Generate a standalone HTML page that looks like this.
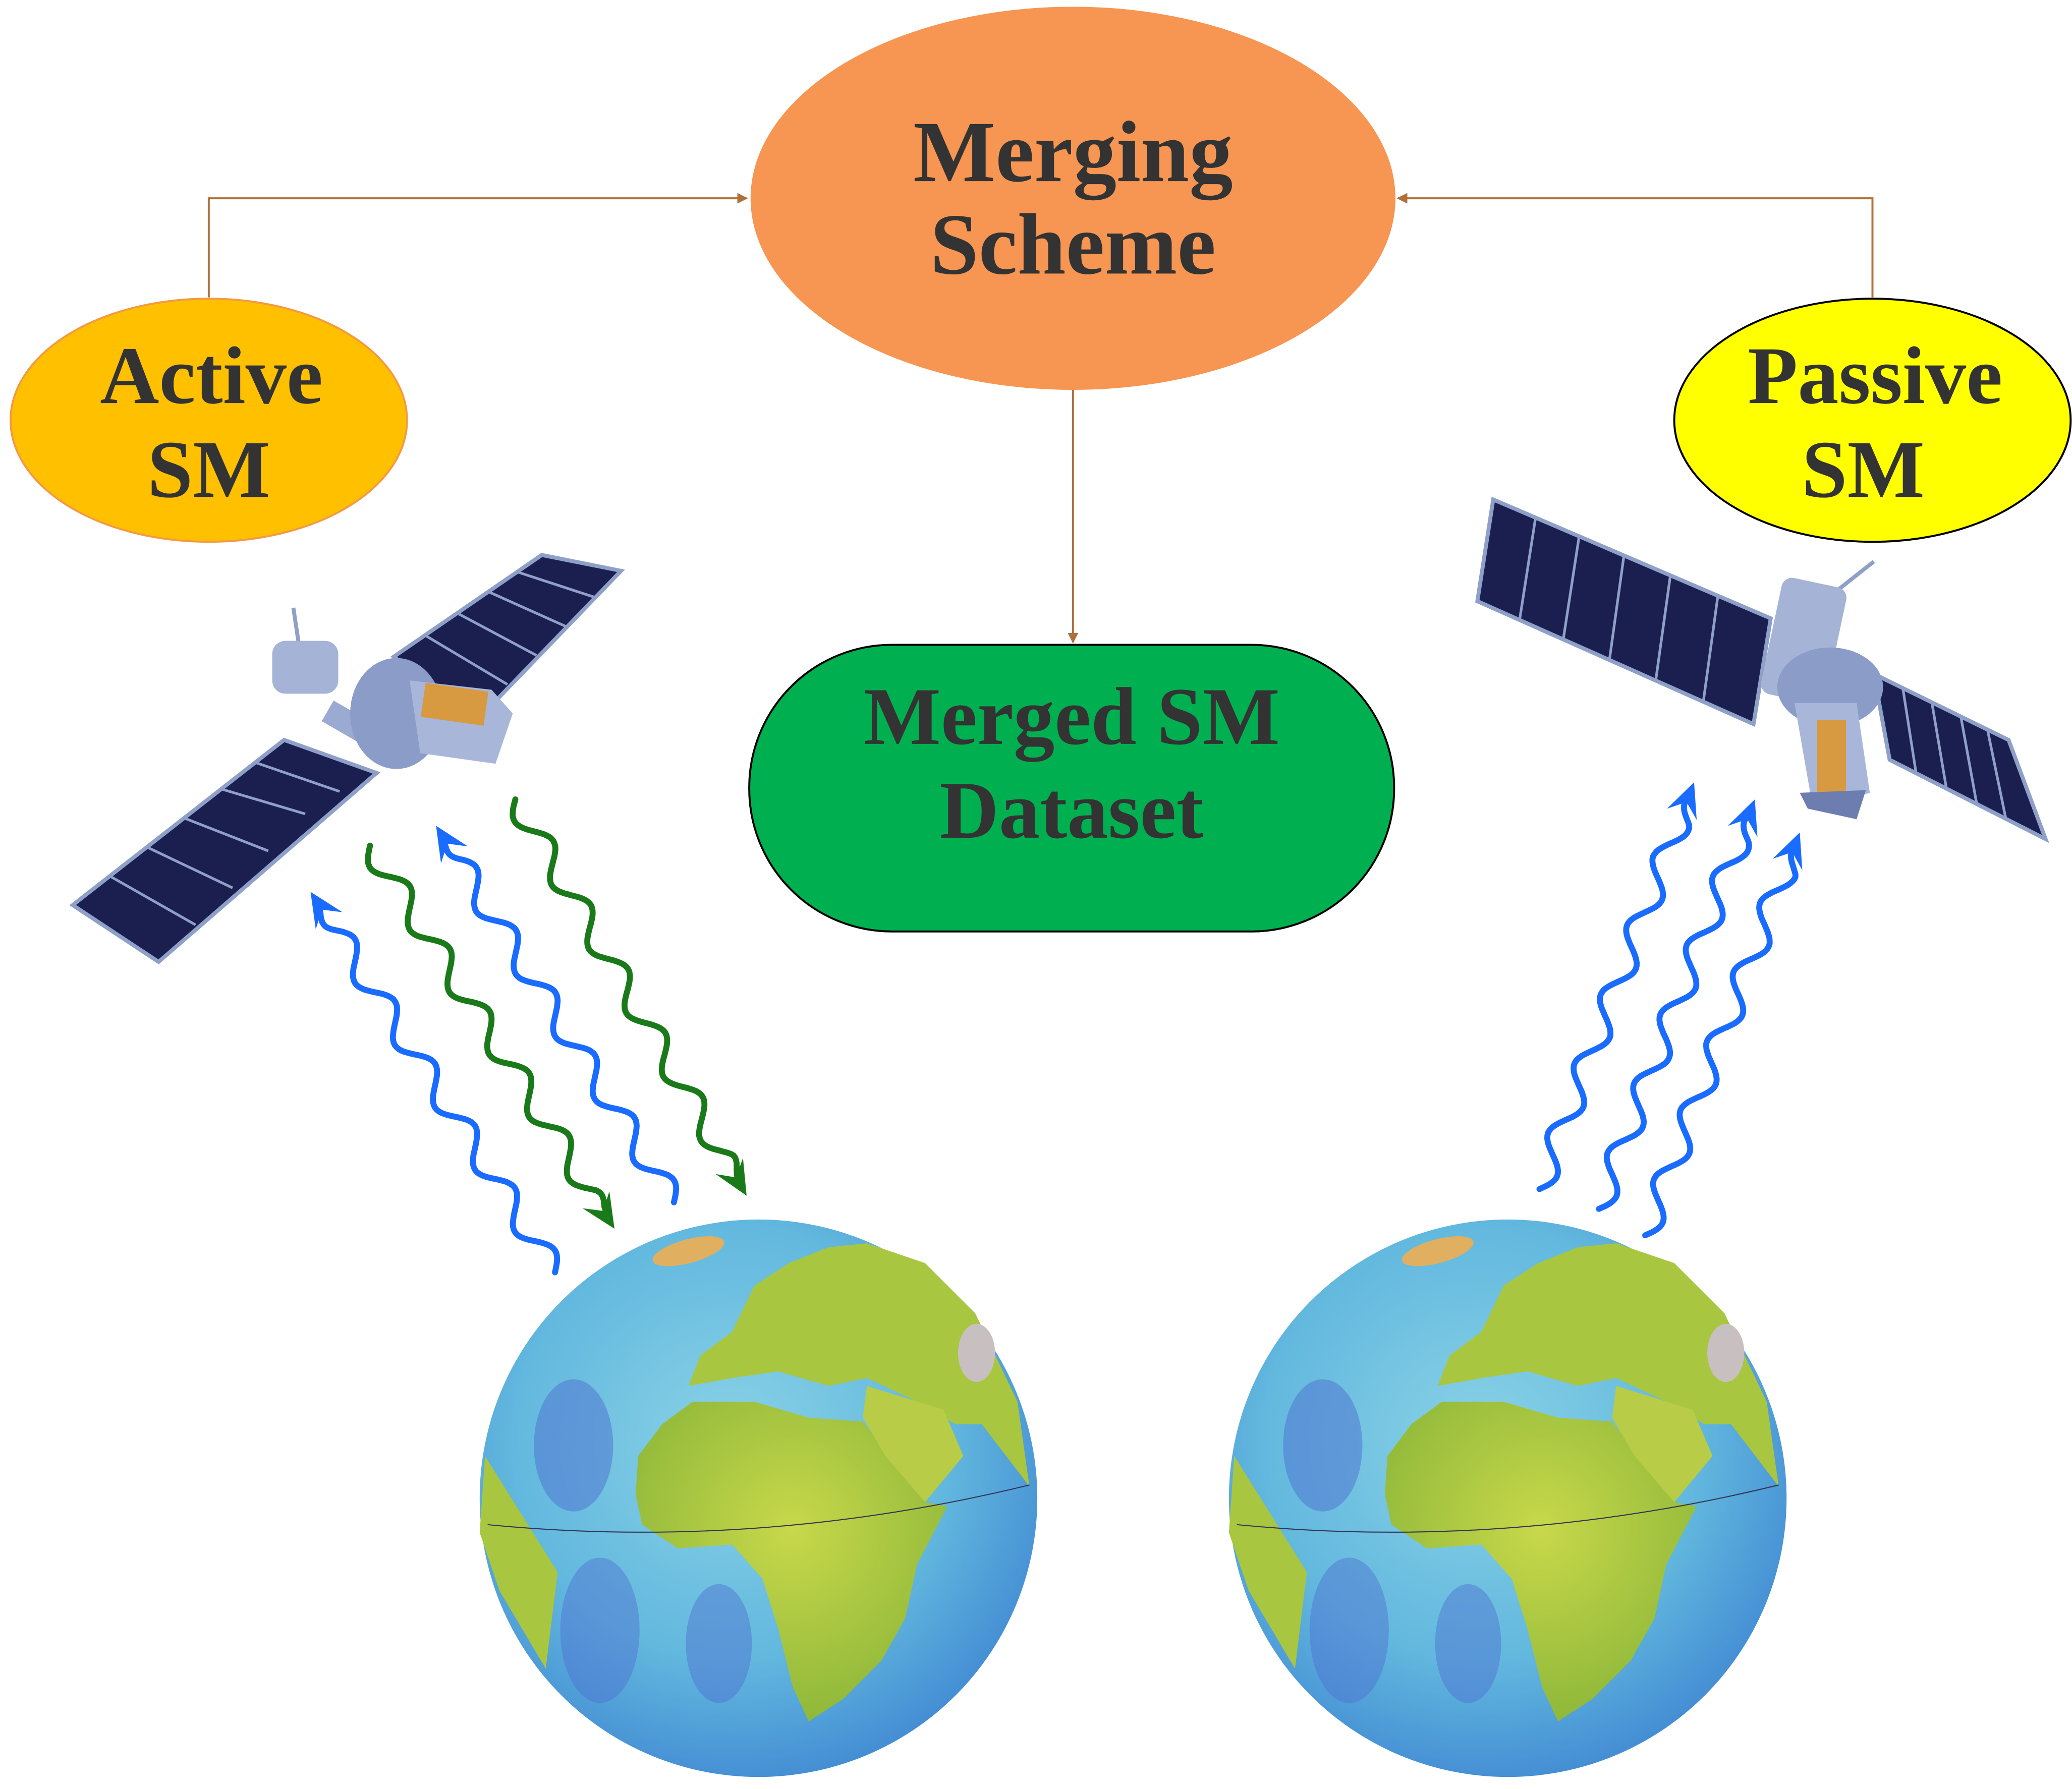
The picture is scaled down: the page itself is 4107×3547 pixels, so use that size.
<!DOCTYPE html>
<html><head><meta charset="utf-8"><style>
html,body{margin:0;padding:0;background:#fff;}
svg{display:block;}
text{font-family:"Liberation Serif",serif;font-weight:bold;fill:#333;text-anchor:middle;}
</style></head><body>
<svg id="s" width="4107" height="3547" viewBox="0 0 1568 1354" xmlns="http://www.w3.org/2000/svg">
<defs>
<marker id="ar" markerWidth="8" markerHeight="8" refX="7" refY="4" orient="auto" markerUnits="userSpaceOnUse"><path d="M0,0 L8,4 L0,8 Z" fill="#b0703a"/></marker>
<radialGradient id="ocean" cx="45%" cy="40%" r="65%">
<stop offset="0" stop-color="#8ad2e6"/><stop offset="0.6" stop-color="#62b8de"/><stop offset="1" stop-color="#3f86d2"/></radialGradient>
<radialGradient id="land" cx="50%" cy="40%" r="60%"><stop offset="0" stop-color="#c8d84a"/><stop offset="1" stop-color="#8fb83a"/></radialGradient>
<g id="globe">
<circle r="211" fill="url(#ocean)"/>
<ellipse cx="-140" cy="-40" rx="30" ry="50" fill="#4d6fd0" opacity="0.5"/>
<ellipse cx="-120" cy="100" rx="30" ry="55" fill="#4d6fd0" opacity="0.45"/>
<ellipse cx="-30" cy="110" rx="25" ry="45" fill="#4d6fd0" opacity="0.45"/>
<path d="M-91,-32 L-73,-56 L-50,-73 L-3,-73 L38,-61 L79,-58 L99,-32 L126,3 L143,6 L120,50 L111,91 L93,123 L64,152 L38,169 L26,143 L15,99 L3,61 L-20,35 L-61,38 L-88,20 L-93,-3 Z" fill="url(#land)"/>
<path d="M-53,-85 L-44,-108 L-20,-126 L-3,-161 L23,-178 L53,-190 L82,-193 L126,-178 L164,-140 L196,-73 L205,-9 L169,-56 L149,-56 L120,-73 L82,-91 L53,-85 L15,-96 L-20,-91 Z" fill="#a8c640"/>
<path d="M82,-85 L140,-67 L155,-32 L126,3 L96,-32 L79,-61 Z" fill="#b8cc48"/>
<path d="M-207,-32 L-152,56 L-161,129 L-196,70 L-211,26 Z" fill="#a8c640"/>
<ellipse cx="-53" cy="-187" rx="28" ry="9" transform="rotate(-15 -53 -187)" fill="#e0b060"/>
<ellipse cx="165" cy="-110" rx="14" ry="22" fill="#c8c0c0"/>
<path d="M-205,20 Q0,40 205,-10" stroke="#335" stroke-width="0.8" fill="none"/>
</g>
</defs>

<path d="M158,225 L158,150 L565,150" stroke="#b0703a" stroke-width="1.5" fill="none" marker-end="url(#ar)"/>
<path d="M1417,225 L1417,150 L1058,150" stroke="#b0703a" stroke-width="1.5" fill="none" marker-end="url(#ar)"/>
<path d="M812,295 L812,486" stroke="#b0703a" stroke-width="1.5" fill="none" marker-end="url(#ar)"/>

<g>
<ellipse cx="812" cy="150" rx="244" ry="145" fill="#f79552"/>
<text x="812" y="137" font-size="66">Merging</text>
<text x="812" y="207" font-size="66">Scheme</text>
</g>
<g>
<ellipse cx="158" cy="318" rx="150" ry="92" fill="#ffc000" stroke="#f39a40" stroke-width="1.5"/>
<text x="160" y="305" font-size="62">Active</text>
<text x="158" y="376" font-size="62">SM</text>
</g>
<g>
<ellipse cx="1417" cy="318" rx="150" ry="92" fill="#ffff00" stroke="#000" stroke-width="1.5"/>
<text x="1419" y="305" font-size="62">Passive</text>
<text x="1410" y="376" font-size="62">SM</text>
</g>
<g>
<rect x="567" y="488" width="488" height="217" rx="108" ry="108" fill="#00b050" stroke="#000" stroke-width="1.5"/>
<text x="811" y="563" font-size="62">Merged SM</text>
<text x="811" y="634" font-size="62">Dataset</text>
</g>

<g>
<polygon points="298,497 410,420 470,432 362,544" fill="#1a1f4f" stroke="#8fa0c8" stroke-width="3"/>
<polygon points="55,685 215,560 285,585 120,728" fill="#1a1f4f" stroke="#8fa0c8" stroke-width="3"/>
<g stroke="#8fa0c8" stroke-width="2">
<line x1="322" y1="481" x2="384" y2="518"/><line x1="346" y1="464" x2="406" y2="496"/><line x1="370" y1="448" x2="428" y2="474"/><line x1="392" y1="433" x2="450" y2="452"/>
<line x1="83" y1="663" x2="148" y2="700"/><line x1="111" y1="641" x2="176" y2="672"/><line x1="139" y1="619" x2="203" y2="644"/><line x1="167" y1="597" x2="231" y2="616"/><line x1="193" y1="577" x2="257" y2="599"/>
</g>
<line x1="222" y1="460" x2="228" y2="500" stroke="#8fa0c8" stroke-width="3"/>
<rect x="206" y="485" width="50" height="40" rx="10" fill="#a4b3d6"/>
<rect x="245" y="540" width="45" height="18" fill="#9aaad0" transform="rotate(30 267 549)"/>
<ellipse cx="300" cy="540" rx="35" ry="42" fill="#8c9cc8"/>
<polygon points="310,515 372,522 388,540 375,578 318,570" fill="#a8b6da"/>
<rect x="320" y="520" width="48" height="26" fill="#d89a40" transform="rotate(8 344 533)"/>
</g>

<g>
<polygon points="1130,378 1340,468 1327,548 1118,455" fill="#1a1f4f" stroke="#8fa0c8" stroke-width="3"/>
<g stroke="#8fa0c8" stroke-width="2">
<line x1="1162" y1="392" x2="1150" y2="469"/><line x1="1195" y1="406" x2="1183" y2="484"/><line x1="1229" y1="420" x2="1218" y2="499"/><line x1="1264" y1="436" x2="1253" y2="515"/><line x1="1300" y1="451" x2="1289" y2="531"/>
</g>
<polygon points="1418,510 1520,560 1548,635 1430,575" fill="#1a1f4f" stroke="#8fa0c8" stroke-width="3"/>
<g stroke="#8fa0c8" stroke-width="2">
<line x1="1440" y1="521" x2="1450" y2="585"/><line x1="1462" y1="532" x2="1473" y2="597"/><line x1="1484" y1="543" x2="1496" y2="609"/><line x1="1504" y1="552" x2="1518" y2="620"/>
</g>
<line x1="1380" y1="455" x2="1418" y2="425" stroke="#8fa0c8" stroke-width="3"/>
<rect x="1340" y="440" width="50" height="90" rx="8" fill="#a4b3d6" transform="rotate(12 1365 485)"/>
<ellipse cx="1385" cy="520" rx="40" ry="30" fill="#8c9cc8"/>
<polygon points="1358,532 1405,532 1415,600 1372,612" fill="#a8b6da"/>
<rect x="1375" y="545" width="22" height="55" fill="#d89a40"/>
<polygon points="1362,600 1412,598 1405,620 1368,612" fill="#6d7db0"/>
</g>

<g id="waves"></g>

<use href="#globe" x="574" y="1134"/>
<use href="#globe" x="1141" y="1134"/>
</svg>
<script>
const wavesFrom = [[420,963],[510,910],[280,640],[390,605],[1165,900],[1210,915],[1245,935]];
const wavesTo   = [[235,675],[330,625],[465,930],[565,905],[1282,592],[1328,605],[1362,630]];
const waveColors = ['#1a6bff','#1a6bff','#1a7a1a','#1a7a1a','#1a6bff','#1a6bff','#1a6bff'];
const waveNames = ['active-return-wave-1','active-return-wave-2','active-pulse-wave-1','active-pulse-wave-2','passive-emission-wave-1','passive-emission-wave-2','passive-emission-wave-3'];
const g = document.getElementById('waves');
const NS = 'http://www.w3.org/2000/svg';
wavesFrom.forEach((a,i)=>{
  const b = wavesTo[i];
  const dx=b[0]-a[0], dy=b[1]-a[1], L=Math.hypot(dx,dy);
  const ux=dx/L, uy=dy/L, nx=-uy, ny=ux;
  const amp = 9, wl = 56;
  let d='';
  const stop=L-16;
  for(let t=0;t<=stop;t+=2){
    const o=amp*Math.sin(2*Math.PI*t/wl)*Math.min(1,(stop-t)/20+0.2);
    const x=a[0]+ux*t+nx*o, y=a[1]+uy*t+ny*o;
    d+=(t===0?'M':'L')+x.toFixed(1)+','+y.toFixed(1);
  }
  d+='L'+(b[0]-ux*8).toFixed(1)+','+(b[1]-uy*8).toFixed(1);
  const p=document.createElementNS(NS,'path');
  p.setAttribute('d',d);
  p.setAttribute('fill','none');
  p.setAttribute('stroke',waveColors[i]);
  p.setAttribute('stroke-width','4.5');
  p.setAttribute('stroke-linecap','round');
  p.setAttribute('stroke-linejoin','round');
  
  
  g.appendChild(p);
  const h=document.createElementNS(NS,'polygon');
  const hx=b[0]-ux*26, hy=b[1]-uy*26;
  h.setAttribute('points',b[0]+','+b[1]+' '+(hx+nx*12)+','+(hy+ny*12)+' '+(b[0]-ux*16)+','+(b[1]-uy*16)+' '+(hx-nx*12)+','+(hy-ny*12));
  h.setAttribute('fill',waveColors[i]);
  
  
  g.appendChild(h);
});
</script>
</body></html>
